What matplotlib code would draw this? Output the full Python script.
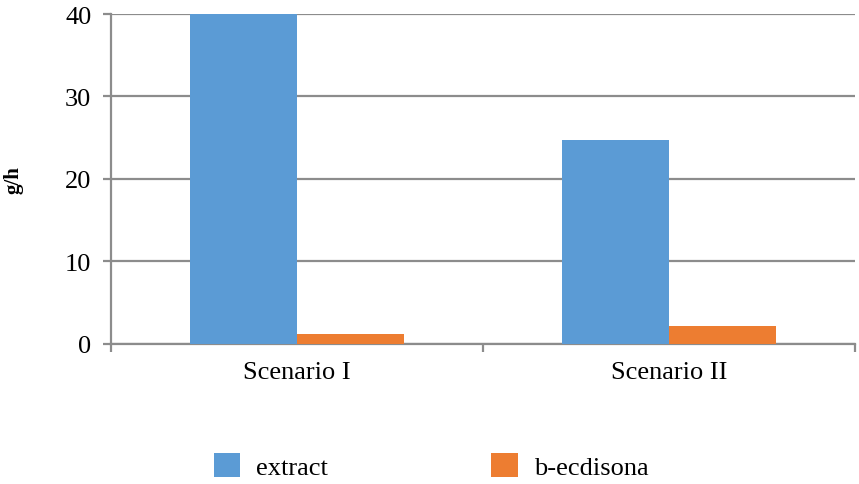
import matplotlib
matplotlib.use('Agg')
import matplotlib.pyplot as plt
import numpy as np

categories = ['Scenario I', 'Scenario II']
extract = [40.0, 24.7]
b_ecdisona = [1.2, 2.2]
yticks = [0, 10, 20, 30, 40]

plt.rcParams['font.family'] = ['Liberation Serif', 'DejaVu Serif']

fig = plt.figure(figsize=(8.59, 4.85), dpi=100)
ax = fig.add_axes([0.129, 0.289, 0.866, 0.680])

grey = '#8c8c8c'
x = np.arange(len(categories))
w = 0.2875
ax.bar(x - w/2, extract, w, color='#5B9BD5', label='extract', zorder=3)
ax.bar(x + w/2, b_ecdisona, w, color='#ED7D31', label='b-ecdisona', zorder=3)

ax.set_xlim(-0.5, len(categories) - 0.5)
ax.set_ylim(0, 40)
ax.set_yticks(yticks)
ax.yaxis.grid(True, color=grey, linewidth=1.6, zorder=0)
ax.set_axisbelow(True)

ax.set_xticks(x)
ax.set_xticklabels(categories, fontsize=19)
ax.set_xticks(np.arange(len(categories) + 1) - 0.5, minor=True)
ax.tick_params(axis='x', which='major', length=0, pad=12)
ax.tick_params(axis='x', which='minor', length=6, width=1.6, color=grey, direction='out')
ax.tick_params(axis='y', length=6, width=1.6, color=grey, labelsize=19, pad=8)

for s in ['top', 'right']:
    ax.spines[s].set_visible(False)
for s in ['left', 'bottom']:
    ax.spines[s].set_color(grey)
    ax.spines[s].set_linewidth(1.6)

ax.set_ylabel('g/h', fontsize=15, fontweight='bold', labelpad=30)

fig.legend(loc='center', bbox_to_anchor=(431/859, 1 - 467/485), ncol=2,
           frameon=False, fontsize=19, handlelength=1.0, handleheight=1.0,
           handletextpad=0.6, columnspacing=6.2)

fig.savefig('out.png', dpi=100)
